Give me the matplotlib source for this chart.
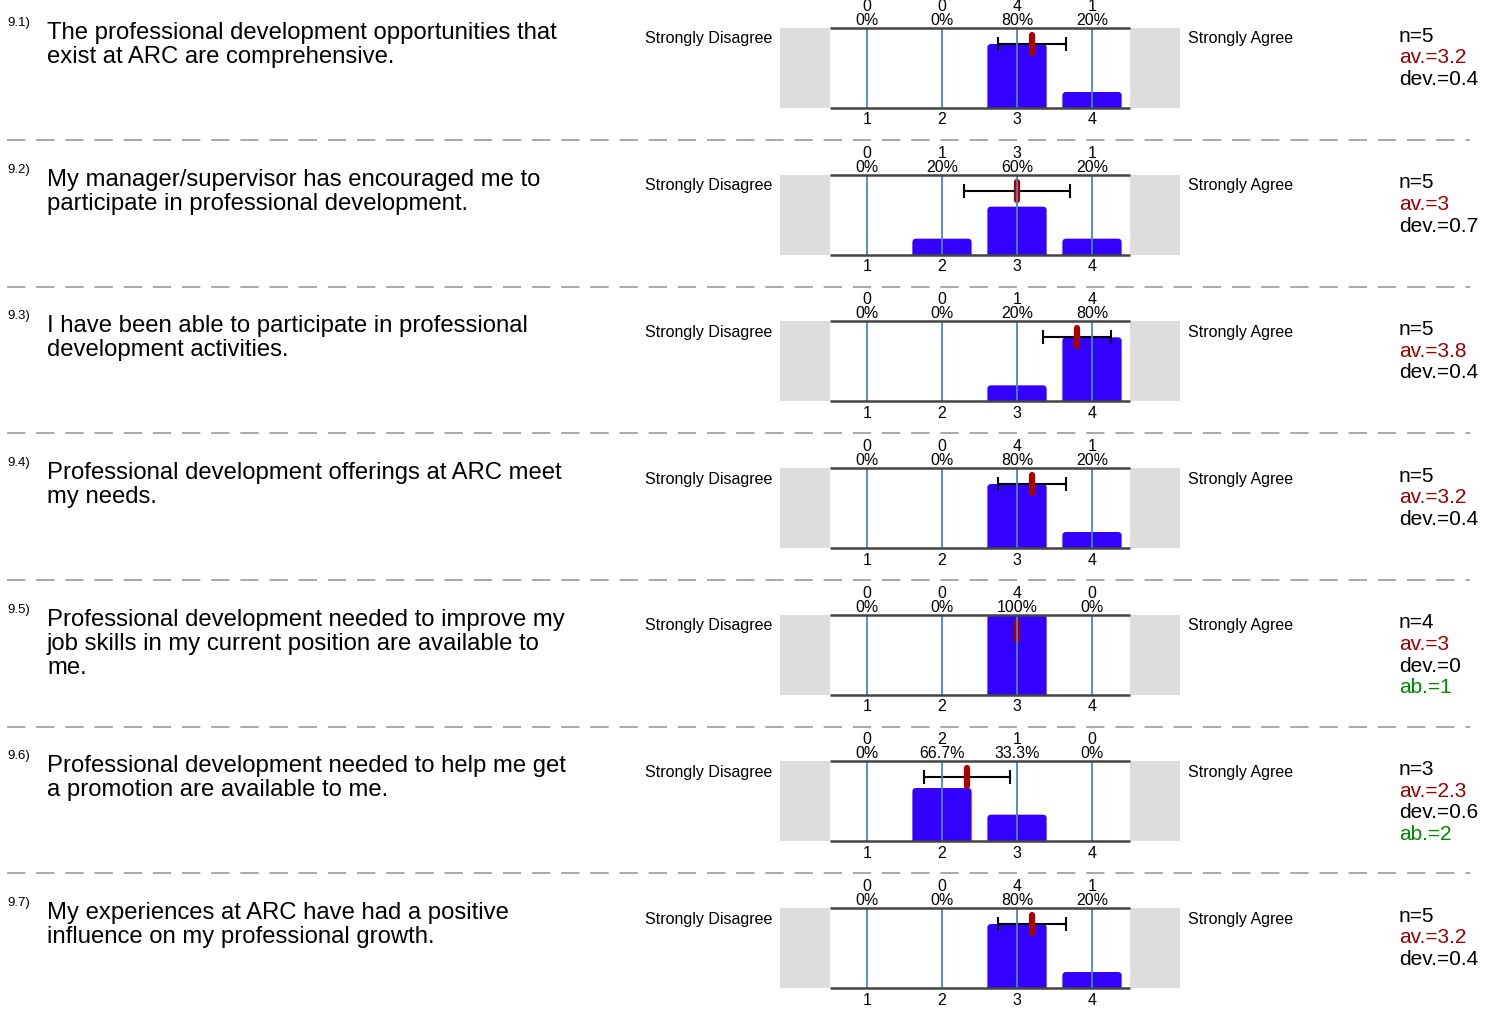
import matplotlib
matplotlib.use("Agg")
import matplotlib.pyplot as plt
from matplotlib.patches import FancyBboxPatch

plt.rcParams["font.family"] = ["Liberation Sans", "DejaVu Sans"]

# ---- data ------------------------------------------------------------------
numbers = ["9.1)", "9.2)", "9.3)", "9.4)", "9.5)", "9.6)", "9.7)"]
questions = [
    ["The professional development opportunities that",
     "exist at ARC are comprehensive."],
    ["My manager/supervisor has encouraged me to",
     "participate in professional development."],
    ["I have been able to participate in professional",
     "development activities."],
    ["Professional development offerings at ARC meet",
     "my needs."],
    ["Professional development needed to improve my",
     "job skills in my current position are available to",
     "me."],
    ["Professional development needed to help me get",
     "a promotion are available to me."],
    ["My experiences at ARC have had a positive",
     "influence on my professional growth."],
]
scale = [1, 2, 3, 4]
counts = [
    [0, 0, 4, 1],
    [0, 1, 3, 1],
    [0, 0, 1, 4],
    [0, 0, 4, 1],
    [0, 0, 4, 0],
    [0, 2, 1, 0],
    [0, 0, 4, 1],
]
n_resp = [5, 5, 5, 5, 4, 3, 5]
averages = [3.2, 3, 3.8, 3.2, 3, 2.3, 3.2]
deviations = [0.4, 0.7, 0.4, 0.4, 0, 0.6, 0.4]
abstentions = [None, None, None, None, 1, 2, None]
left_label = "Strongly Disagree"
right_label = "Strongly Agree"

# ---- layout (pixels) --------------------------------------------------------
W, H = 1497, 1015
PITCH = 146.67
CHART_TOP = 28
CHART_H = 80
AX_L, AX_R = 780, 1180
X1_PX, STEP_PX = 867, 75          # pixel of scale value 1, pixels per step

BAR_BLUE = "#3300ff"
LINE_BLUE = "#4a86c4"
MEAN_RED = "#aa0000"
AV_RED = "#990000"
AB_GREEN = "#008800"


def fy(px):
    return 1 - px / H


def fx(px):
    return px / W


def mean_std(values, weights):
    # exact mean / sample std of the answers (the printed ones are rounded)
    n = sum(weights)
    m = sum(v * w for v, w in zip(values, weights)) / n
    if n < 2:
        return m, 0.0
    var = sum(w * (v - m) ** 2 for v, w in zip(values, weights)) / (n - 1)
    return m, var ** 0.5


fig = plt.figure(figsize=(W / 100, H / 100), dpi=100)

for i in range(len(questions)):
    top = CHART_TOP + PITCH * i

    # question number and text
    fig.text(fx(7), fy(top - 5), numbers[i], fontsize=9.5, va="center")
    for k, line in enumerate(questions[i]):
        fig.text(fx(47), fy(top + 5 + 24 * k), line, fontsize=17.2,
                 va="center")

    fig.text(fx(772), fy(top + 11), left_label, fontsize=11.5,
             ha="right", va="center")
    fig.text(fx(1188), fy(top + 11), right_label, fontsize=11.5,
             ha="left", va="center")

    # stats block
    stats = [(f"n={n_resp[i]}", "black"),
             (f"av.={averages[i]:g}", AV_RED),
             (f"dev.={deviations[i]:g}", "black")]
    if abstentions[i] is not None:
        stats.append((f"ab.={abstentions[i]}", AB_GREEN))
    for k, (s, c) in enumerate(stats):
        fig.text(fx(1399), fy(top + 8 + 21.7 * k), s, fontsize=15,
                 color=c, va="center")

    # chart
    ax = fig.add_axes([fx(AX_L), fy(top + CHART_H),
                       (AX_R - AX_L) / W, CHART_H / H])
    x0 = 1 - (X1_PX - AX_L) / STEP_PX
    x1 = 4 + (AX_R - (X1_PX + 3 * STEP_PX)) / STEP_PX
    ax.set_xlim(x0, x1)
    ax.set_ylim(0, 1)
    ax.axis("off")

    ax.axvspan(x0, 0.5, color="#dddddd", lw=0)
    ax.axvspan(4.5, x1, color="#dddddd", lw=0)

    n = sum(counts[i])
    for x, c in zip(scale, counts[i]):
        frac = c / n
        pct = round(100 * frac, 1)
        ax.text(x, 1 + 21.5 / CHART_H, str(c), ha="center", va="center",
                fontsize=11.5, clip_on=False)
        ax.text(x, 1 + 7.5 / CHART_H, f"{pct:g}%", ha="center", va="center",
                fontsize=11.5, clip_on=False)
        ax.text(x, -12 / CHART_H, str(x), ha="center", va="center",
                fontsize=11.5, clip_on=False)
        if c > 0:
            bar = FancyBboxPatch((x - 0.395, -0.1), 0.79, frac + 0.1,
                                 boxstyle="round,pad=0,rounding_size=0.05",
                                 mutation_aspect=0.94,
                                 fc=BAR_BLUE, ec="none", zorder=2)
            ax.add_patch(bar)

    ax.vlines(scale, 0, 1, color=LINE_BLUE, lw=1.3, zorder=4)
    ax.hlines([0, 1], 0.5, 4.5, color="#444444", lw=1.8, zorder=5,
              clip_on=False)

    m, d = mean_std(scale, counts[i])
    if d > 0:
        ax.errorbar(m, 1 - 16 / CHART_H, xerr=d, fmt="none", ecolor="black",
                    elinewidth=1.5, capsize=5, capthick=1.5, zorder=3)
    ax.plot([m, m], [1 - 7 / CHART_H, 1 - 25 / CHART_H], color=MEAN_RED,
            lw=4.5, solid_capstyle="round", zorder=3)

# dashed separators between questions
for i in range(len(questions) - 1):
    y = fy(140 + PITCH * i)
    fig.add_artist(plt.Line2D([fx(7), fx(1470)], [y, y], color="#999999",
                              lw=1.2, dashes=(11, 6.5)))

fig.savefig("out.png", dpi=100)
